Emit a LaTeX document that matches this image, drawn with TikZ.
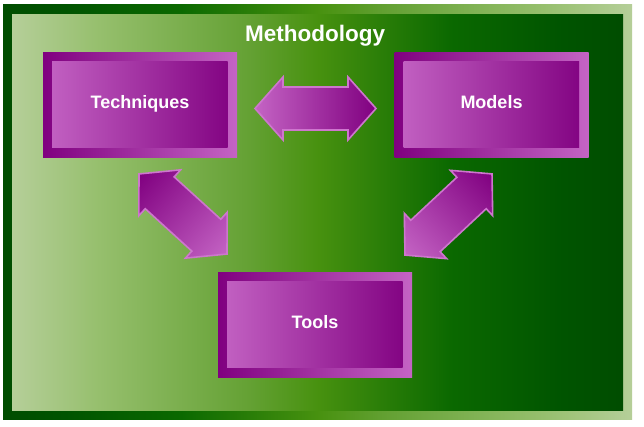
\documentclass[tikz,border=0pt]{standalone}
\usepackage{fontspec}
\setmainfont{Liberation Sans}
\definecolor{pdark}{RGB}{128,0,128}
\definecolor{plight}{RGB}{196,100,196}
\definecolor{prim}{RGB}{206,118,206}
\pgfdeclarehorizontalshading{bginner}{100bp}{rgb(0bp)=(.71,.81,.6); rgb(25bp)=(.71,.81,.6); rgb(32bp)=(.59,.75,.43); rgb(44.5bp)=(.39,.63,.2); rgb(50bp)=(.28,.57,.06); rgb(61bp)=(.04,.41,0); rgb(70bp)=(0,.33,0); rgb(75bp)=(0,.3,0); rgb(100bp)=(0,.3,0)}
\pgfdeclarehorizontalshading{bgouter}{100bp}{rgb(0bp)=(0,.3,0); rgb(25bp)=(0,.3,0); rgb(30bp)=(0,.33,0); rgb(39bp)=(.04,.41,0); rgb(50bp)=(.28,.57,.06); rgb(55.5bp)=(.39,.63,.2); rgb(68bp)=(.59,.75,.43); rgb(75bp)=(.71,.81,.6); rgb(100bp)=(.71,.81,.6)}
\tikzset{
  boxnode/.style={rectangle, minimum width=194pt, minimum height=105pt, inner sep=0pt,
    left color=pdark, right color=plight, text=white,
    font=\fontsize{18}{20}\selectfont\bfseries, text height=13pt, text depth=6.8pt,
    path picture={\shade[left color=plight, right color=pdark]
      ([shift={(9pt,-8.5pt)}]path picture bounding box.north west) rectangle
      ([shift={(-9.5pt,10pt)}]path picture bounding box.south east);}},
  titlenode/.style={text=white, inner sep=0pt, font=\fontsize{22.5}{24}\selectfont\bfseries,
    text height=16.2pt, text depth=8.55pt},
  blockarrow/.style={draw=prim, line width=1.6pt, line join=miter}
}
\begin{document}
\begin{tikzpicture}[x=1pt,y=1pt]
\useasboundingbox (0,0) rectangle (644,427);
\fill[white] (0,0) rectangle (644,427);
% background frame
\shade[shading=bgouter] (3,7) rectangle (632,422);
\shade[shading=bginner] (12,16) rectangle (623,412);
% title
\node[titlenode] (title) at (315,389) {Methodology};
% boxes
\node[boxnode] (tech) at (140,321.5) {Techniques};
\node[boxnode] (models) at (491.5,321.5) {Models};
\node[boxnode] (tools) at (315,101.5) {Tools};
% arrows
\coordinate (ah) at (315.5,318.5);
\coordinate (al) at (183,213);
\coordinate (ar) at (448.5,212.5);
\begin{scope}[transform canvas={shift={(315.5,318.5)}}]
\draw[blockarrow, left color=plight, right color=pdark]
  (-60.5,0) -- (-32.5,31.5) -- (-32.5,21.5) -- (32.5,21.5) -- (32.5,31.5) -- (60.5,0)
  -- (32.5,-31.5) -- (32.5,-21.5) -- (-32.5,-21.5) -- (-32.5,-31.5) -- cycle;
\end{scope}
\begin{scope}[transform canvas={shift={(183,213)},rotate=-42.3}]
\draw[blockarrow, left color=pdark, right color=plight]
  (-59.5,0) -- (-31.5,31) -- (-31.5,21.5) -- (31.5,21.5) -- (31.5,31) -- (59.5,0)
  -- (31.5,-31) -- (31.5,-21.5) -- (-31.5,-21.5) -- (-31.5,-31) -- cycle;
\end{scope}
\begin{scope}[transform canvas={shift={(448.5,212.5)},rotate=43}]
\draw[blockarrow, left color=plight, right color=pdark]
  (-59.5,0) -- (-31.5,31) -- (-31.5,21.5) -- (31.5,21.5) -- (31.5,31) -- (59.5,0)
  -- (31.5,-31) -- (31.5,-21.5) -- (-31.5,-21.5) -- (-31.5,-31) -- cycle;
\end{scope}
\end{tikzpicture}
\end{document}
